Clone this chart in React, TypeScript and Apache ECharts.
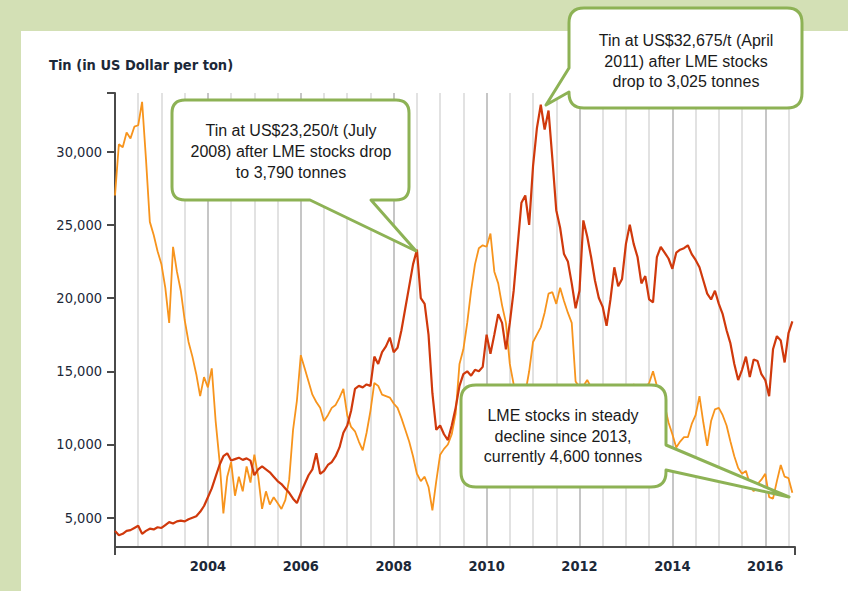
import { useEffect, useRef } from 'react';
import * as echarts from 'echarts';

// Monthly samples starting January 2002
const START_YEAR = 2002;
const X_MAX = 2016.64;

// Tin price, US$ per ton
const tinPrice = [
  4100, 3800, 3900, 4100, 4150, 4300, 4450, 3900, 4100, 4250, 4200, 4350,
  4300, 4500, 4700, 4600, 4750, 4800, 4750, 4900, 5000, 5100, 5400, 5800,
  6400, 7000, 7800, 8600, 9200, 9400, 8900, 9000, 9100, 8950, 9050, 8900,
  7900, 8300, 8500, 8300, 8100, 7800, 7500, 7300, 7000, 6700, 6300, 6000,
  6700, 7300, 7900, 8300, 9400, 8000, 8200, 8600, 8800, 9200, 9800, 10800,
  11300, 12300, 13800, 14000, 13900, 14100, 14000, 16000, 15500, 16300, 16700, 17300,
  16300, 16600, 17800, 19300, 20800, 22300, 23300, 20000, 19600, 17500, 13500, 11000,
  11300, 10700, 10300, 11300, 12500, 14000, 14800, 15000, 14700, 15100, 15000, 15300,
  17500, 16200, 17500, 18900, 18300, 16500, 18300, 20500, 23500, 26500, 27000, 25000,
  29000, 31600, 33200, 31500, 32800, 29500, 26000, 24800, 23000, 22500, 21000, 19300,
  20500, 25300, 24200, 22800, 21200, 20000, 19400, 18100, 19900, 22100, 20800, 21300,
  23700, 25000, 23700, 22800, 21000, 21500, 19900, 19700, 22800, 23500, 23100, 22700,
  22000, 23100, 23300, 23400, 23600, 23000, 22600, 22100, 21200, 20300, 19900, 20500,
  19600, 18900, 17800, 16900, 15500, 14400, 15100, 16000, 14600, 15800, 15700, 14800,
  14400, 13300, 16500, 17400, 17100, 15600, 17600, 18400,
];

// LME tin stocks, tonnes
const lmeStocks = [
  27000, 30500, 30300, 31300, 30900, 31700, 31800, 33400, 29500, 25200, 24300, 23200,
  22300, 20700, 18300, 23500, 21800, 20500, 18500, 17000, 16000, 14800, 13300, 14600,
  13900, 15200, 11600, 8900, 5300, 7800, 8800, 6500, 7800, 6800, 8500, 7400,
  9300, 7800, 5600, 6800, 5900, 6400, 6000, 5600, 6200, 7600, 11000, 13000,
  16100, 15200, 14300, 13400, 12900, 12500, 11600, 12000, 12500, 12700, 13200, 13800,
  12000, 11200, 10900, 10200, 9600, 10800, 12300, 14200, 14000, 13400, 13300, 13200,
  12800, 12500, 11800, 11000, 10200, 9200, 8000, 7500, 7800, 7100, 5500, 7500,
  9300, 9700, 10000, 10700, 12100, 15500, 16500, 18300, 20500, 22300, 23400, 23600,
  23500, 24400, 21800, 21000, 19500, 18300, 15500, 14100, 13500, 13000, 13500, 15000,
  17000, 17500, 18000, 19000, 20300, 20400, 19600, 20700, 19800, 19000, 18300, 14300,
  13900, 14000, 14400, 13900, 13800, 13700, 13900, 14000, 13800, 14000, 13900, 13800,
  14000, 13900, 14100, 13800, 14000, 13900, 14200, 15000, 14000, 13600, 12700, 11500,
  10700, 9800, 10200, 10500, 10500, 11400, 12000, 13300, 11500, 9900, 11600, 12400,
  12500, 12000, 11300, 10200, 9200, 8400, 8000, 8200, 7300, 6800, 7300, 7600,
  8000, 6400, 6300, 7500, 8600, 7800, 7700, 6700,
];

const yearLabels = [2004, 2006, 2008, 2010, 2012, 2014, 2016];
const yLabels = [5000, 10000, 15000, 20000, 25000, 30000];

const titleText = 'Tin (in US Dollar per ton)';
const callout1Text = 'Tin at US$23,250/t (July\n2008) after LME stocks drop\nto 3,790 tonnes';
const callout2Text = 'Tin at US$32,675/t (April\n2011) after LME stocks\ndrop to 3,025 tonnes';
const callout3Text = 'LME stocks in steady\ndecline since 2013,\ncurrently 4,600 tonnes';

const d1 = 'M185 100 H396 Q409 100 409 113 V187 Q409 200 396 200 H371 L416 251 L310 200 H185 Q172 200 172 187 V113 Q172 100 185 100 Z';
const d2 = 'M584 8 H787 Q802 8 802 23 V93 Q802 108 787 108 H584 Q569 108 569 93 V92 L546 105 L569 68 V23 Q569 8 584 8 Z';
const d3 = 'M476 385 H651 Q666 385 666 400 V445 L789 497 L666 470 V472 Q666 487 651 487 H476 Q461 487 461 472 V400 Q461 385 476 385 Z';

let registered = false;
function registerShapes() {
  if (registered) return;
  echarts.graphic.registerShape('callout1', echarts.graphic.extendPath(d1, {}));
  echarts.graphic.registerShape('callout2', echarts.graphic.extendPath(d2, {}));
  echarts.graphic.registerShape('callout3', echarts.graphic.extendPath(d3, {}));
  registered = true;
}

const LABEL_FONT = '"DejaVu Sans Condensed", "DejaVu Sans"';

export default function App() {
  const ref = useRef<HTMLDivElement>(null);

  useEffect(() => {
    if (!ref.current) return;
    registerShapes();
    const chart = echarts.init(ref.current, undefined, { renderer: 'svg' });

    const tinData = tinPrice.map((v, i) => [START_YEAR + i / 12, v]);
    const stockData = lmeStocks.map((v, i) => [START_YEAR + i / 12, v]);

    const axisColor = '#4a4a4a';
    const labelColor = '#1c2838';
    const green = '#8db255';
    const calloutStyle = { fill: '#ffffff', stroke: green, lineWidth: 3, lineJoin: 'round' };
    const calloutFont = '16px "Liberation Sans", Arial, sans-serif';

    const hiddenAxis = {
      type: 'value',
      min: START_YEAR,
      max: X_MAX,
      axisLine: { show: false },
      axisTick: { show: false },
      axisLabel: { show: false },
    };

    chart.setOption({
      animation: false,
      backgroundColor: 'transparent',
      grid: { left: 115, right: 53, top: 93, bottom: 44, containLabel: false },
      xAxis: [
        {
          ...hiddenAxis,
          position: 'top',
          interval: 0.5,
          splitLine: {
            show: true,
            showMinLine: false,
            showMaxLine: false,
            lineStyle: { color: '#e2e2e2', width: 2 },
          },
        },
        {
          ...hiddenAxis,
          position: 'top',
          offset: 10,
          interval: 2,
          splitLine: {
            show: true,
            showMinLine: false,
            showMaxLine: false,
            lineStyle: { color: '#c6c6c6', width: 2 },
          },
        },
        {
          type: 'value',
          position: 'bottom',
          min: START_YEAR,
          max: X_MAX,
          interval: 0.5,
          axisLine: { show: true, lineStyle: { color: axisColor, width: 2 } },
          axisTick: {
            show: true,
            customValues: [START_YEAR, X_MAX],
            length: 8,
            lineStyle: { color: axisColor, width: 2 },
          },
          axisLabel: {
            customValues: yearLabels,
            formatter: (v: number) => String(Math.round(v)),
            fontFamily: LABEL_FONT,
            fontWeight: 'bold',
            fontSize: 14.5,
            color: labelColor,
            margin: 11,
          },
          splitLine: { show: false },
        },
      ],
      yAxis: {
        type: 'value',
        min: 3000,
        max: 34000,
        axisLine: { show: true, lineStyle: { color: axisColor, width: 2 } },
        axisTick: {
          show: true,
          customValues: [...yLabels, 34000],
          length: 8,
          lineStyle: { color: axisColor, width: 2 },
        },
        axisLabel: {
          customValues: yLabels,
          formatter: (v: number) => v.toLocaleString('en-US'),
          fontFamily: LABEL_FONT,
          fontSize: 14.5,
          color: labelColor,
          margin: 13,
        },
        splitLine: { show: false },
      },
      series: [
        {
          name: 'LME stocks',
          type: 'line',
          xAxisIndex: 2,
          data: stockData,
          showSymbol: false,
          symbol: 'none',
          silent: true,
          z: 2,
          lineStyle: { color: '#f7941d', width: 1.8 },
        },
        {
          name: 'Tin',
          type: 'line',
          xAxisIndex: 2,
          data: tinData,
          showSymbol: false,
          symbol: 'none',
          silent: true,
          z: 3,
          lineStyle: { color: '#d0390c', width: 2.2 },
        },
      ],
      graphic: [
        {
          type: 'text',
          x: 49,
          y: 65,
          z: 50,
          style: {
            text: titleText,
            font: 'bold 14.5px "DejaVu Sans Condensed", "DejaVu Sans"',
            fill: labelColor,
            verticalAlign: 'middle',
          },
        },
        { type: 'callout1', x: 0, y: 0, z: 50, style: calloutStyle },
        { type: 'callout2', x: 0, y: 0, z: 50, style: calloutStyle },
        { type: 'callout3', x: 0, y: 0, z: 50, style: calloutStyle },
        {
          type: 'text', x: 291, y: 151, z: 51,
          style: { text: callout1Text, font: calloutFont, fill: '#1a1a1a', align: 'center', verticalAlign: 'middle', lineHeight: 21 },
        },
        {
          type: 'text', x: 686, y: 61, z: 51,
          style: { text: callout2Text, font: calloutFont, fill: '#1a1a1a', align: 'center', verticalAlign: 'middle', lineHeight: 20.5 },
        },
        {
          type: 'text', x: 563, y: 436, z: 51,
          style: { text: callout3Text, font: calloutFont, fill: '#1a1a1a', align: 'center', verticalAlign: 'middle', lineHeight: 20.5 },
        },
      ],
    });

    return () => {
      chart.dispose();
    };
  }, []);

  return (
    <div style={{ position: 'fixed', left: 0, top: 0, width: 848, height: 591, background: '#d3e0b5', overflow: 'hidden' }}>
      <div style={{ position: 'absolute', left: 21, top: 31, width: 827, height: 560, background: '#ffffff' }} />
      <div ref={ref} style={{ position: 'absolute', left: 0, top: 0, width: 848, height: 591 }} />
    </div>
  );
}
